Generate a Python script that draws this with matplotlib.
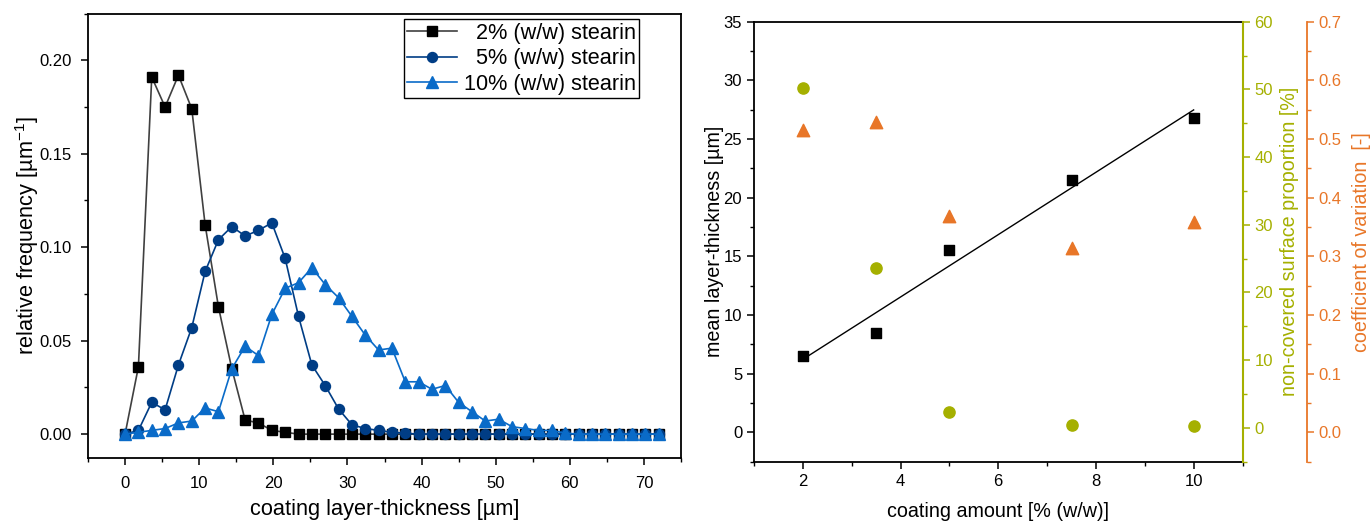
import numpy as np
import matplotlib
matplotlib.use("Agg")
import matplotlib.pyplot as plt
from matplotlib.ticker import MultipleLocator

plt.rcParams["font.family"] = ["Liberation Sans", "DejaVu Sans"]
plt.rcParams["font.size"] = 12

# ── Data: thickness distributions (left) ─────────────────────────────────────
thickness = np.round(np.arange(41) * 1.8, 1)

freq_2 = [0.0, 0.036, 0.191, 0.175, 0.192, 0.174, 0.112, 0.068, 0.035, 0.0075,
          0.006, 0.002, 0.001] + [0.0] * 28
freq_5 = [0.0, 0.002, 0.017, 0.013, 0.037, 0.057, 0.087, 0.104, 0.111, 0.106,
          0.109, 0.113, 0.094, 0.063, 0.037, 0.026, 0.0135, 0.005, 0.003, 0.002,
          0.001, 0.0005] + [0.0] * 19
freq_10 = [0.0, 0.001, 0.002, 0.003, 0.006, 0.007, 0.014, 0.012, 0.035, 0.047,
           0.042, 0.064, 0.078, 0.081, 0.089, 0.080, 0.073, 0.063, 0.053, 0.045,
           0.046, 0.028, 0.028, 0.024, 0.026, 0.017, 0.012, 0.007, 0.008, 0.004,
           0.003, 0.002, 0.002, 0.0005] + [0.0] * 7

# figure space keeps the single-digit labels aligned with "10%"
series_labels = ["\u20072% (w/w) stearin", "\u20075% (w/w) stearin", "10% (w/w) stearin"]

# ── Data: summary vs coating amount (right) ──────────────────────────────────
coating = [2, 3.5, 5, 7.5, 10]
mean_thickness = [6.55, 8.48, 15.57, 21.54, 26.81]
uncovered = [50.2, 23.6, 2.3, 0.4, 0.2]
cv = [0.515, 0.529, 0.369, 0.314, 0.359]

BLACK = "#000000"
NAVY = "#003d85"
BLUE = "#0a6bc8"
GREEN = "#a5b000"
ORANGE = "#e87628"

fig = plt.figure(figsize=(13.7, 5.23), dpi=100)

# ── Left panel ────────────────────────────────────────────────────────────────
ax1 = fig.add_axes([88 / 1370, 1 - 457.5 / 523, 593 / 1370, 444 / 523])
ax1.plot(thickness, freq_2, color="#404040", lw=1.2, marker="s", ms=6.5,
         mfc=BLACK, mec=BLACK, label=series_labels[0])
ax1.plot(thickness, freq_5, color=NAVY, lw=1.2, marker="o", ms=7.2,
         mfc=NAVY, mec=NAVY, label=series_labels[1])
ax1.plot(thickness, freq_10, color=BLUE, lw=1.2, marker="^", ms=8,
         mfc=BLUE, mec=BLUE, label=series_labels[2])

ax1.set_xlim(-5, 75)
ax1.set_ylim(-0.0125, 0.225)
ax1.xaxis.set_major_locator(MultipleLocator(10))
ax1.xaxis.set_minor_locator(MultipleLocator(5))
ax1.yaxis.set_major_locator(MultipleLocator(0.05))
ax1.yaxis.set_minor_locator(MultipleLocator(0.025))
ax1.yaxis.set_major_formatter(plt.FormatStrFormatter("%.2f"))
ax1.set_xlabel("coating layer-thickness [µm]", fontsize=15.7, labelpad=6)
ax1.set_ylabel("relative frequency [µm$^{\\mathregular{-1}}$]", fontsize=15.7, labelpad=-1)

leg = ax1.legend(loc="upper right", bbox_to_anchor=(0.9292, 0.987), borderaxespad=0,
                 fancybox=False, framealpha=1, edgecolor="black", fontsize=15.6,
                 handlelength=2.3, labelspacing=0.22, borderpad=0.15,
                 handletextpad=0.3)
leg.get_frame().set_linewidth(1.0)

# ── Right panel ───────────────────────────────────────────────────────────────
ax2 = fig.add_axes([754 / 1370, 1 - 461.7 / 523, 488.5 / 1370, 440 / 523])
ax3 = ax2.twinx()
ax4 = ax2.twinx()
ax4.spines["right"].set_position(("axes", 1.132))

ax2.scatter(coating, mean_thickness, marker="s", s=60, color=BLACK, zorder=3)
slope, intercept = np.polyfit(coating, mean_thickness, 1)
fit_x = np.array([min(coating), max(coating)])
ax2.plot(fit_x, slope * fit_x + intercept, color=BLACK, lw=1.0)
ax3.scatter(coating, uncovered, marker="o", s=65, color=GREEN, zorder=3)
ax4.scatter(coating, cv, marker="^", s=80, color=ORANGE, zorder=3)

ax2.set_xlim(1, 11)
ax2.set_ylim(-2.5, 35)
ax3.set_ylim(-5, 60)
ax4.set_ylim(-0.05, 0.7)
ax2.xaxis.set_major_locator(MultipleLocator(2))
ax2.xaxis.set_minor_locator(MultipleLocator(1))
ax2.yaxis.set_major_locator(MultipleLocator(5))
ax2.yaxis.set_minor_locator(MultipleLocator(2.5))
ax3.yaxis.set_major_locator(MultipleLocator(10))
ax3.yaxis.set_minor_locator(MultipleLocator(5))
ax4.yaxis.set_major_locator(MultipleLocator(0.1))
ax4.yaxis.set_minor_locator(MultipleLocator(0.05))
ax4.yaxis.set_major_formatter(plt.FormatStrFormatter("%.1f"))

ax2.set_xlabel("coating amount [% (w/w)]", fontsize=14.2, labelpad=9)
ax2.set_ylabel("mean layer-thickness [µm]", fontsize=14.2, labelpad=0)
ax3.set_ylabel("non-covered surface proportion [%]", fontsize=14.2, color=GREEN, labelpad=5)
ax4.set_ylabel("coefficient of variation  [-]", fontsize=14.2, color=ORANGE, labelpad=7)

# spines & ticks
for ax in (ax1, ax2):
    for sp in ax.spines.values():
        sp.set_linewidth(1.3)
    ax.tick_params(which="major", direction="out", length=5, width=1.1, labelsize=12)
    ax.tick_params(which="minor", direction="out", length=3, width=1.0)
    ax.tick_params(top=False, right=False, which="both")
ax1.tick_params(axis="x", which="major", pad=8)
ax1.tick_params(axis="y", which="major", pad=6.5)
ax2.tick_params(axis="x", which="major", pad=4)

ax3.spines["right"].set_color(GREEN)
ax3.spines["right"].set_linewidth(1.5)
ax3.tick_params(axis="y", which="major", colors=GREEN, length=5, width=1.1, labelsize=12)
ax3.tick_params(axis="y", which="minor", colors=GREEN, length=3, width=1.0)

ax4.spines["right"].set_color(ORANGE)
ax4.spines["right"].set_linewidth(1.3)
ax4.spines["right"].set_bounds(-0.05, 0.7)
ax4.tick_params(axis="y", which="major", colors=ORANGE, length=5, width=1.1, labelsize=12)
ax4.tick_params(axis="y", which="minor", colors=ORANGE, length=3, width=1.0)
for side in ("top", "left", "bottom"):
    ax4.spines[side].set_visible(False)
    ax3.spines[side].set_visible(False)

fig.savefig("out.png", dpi=100)
